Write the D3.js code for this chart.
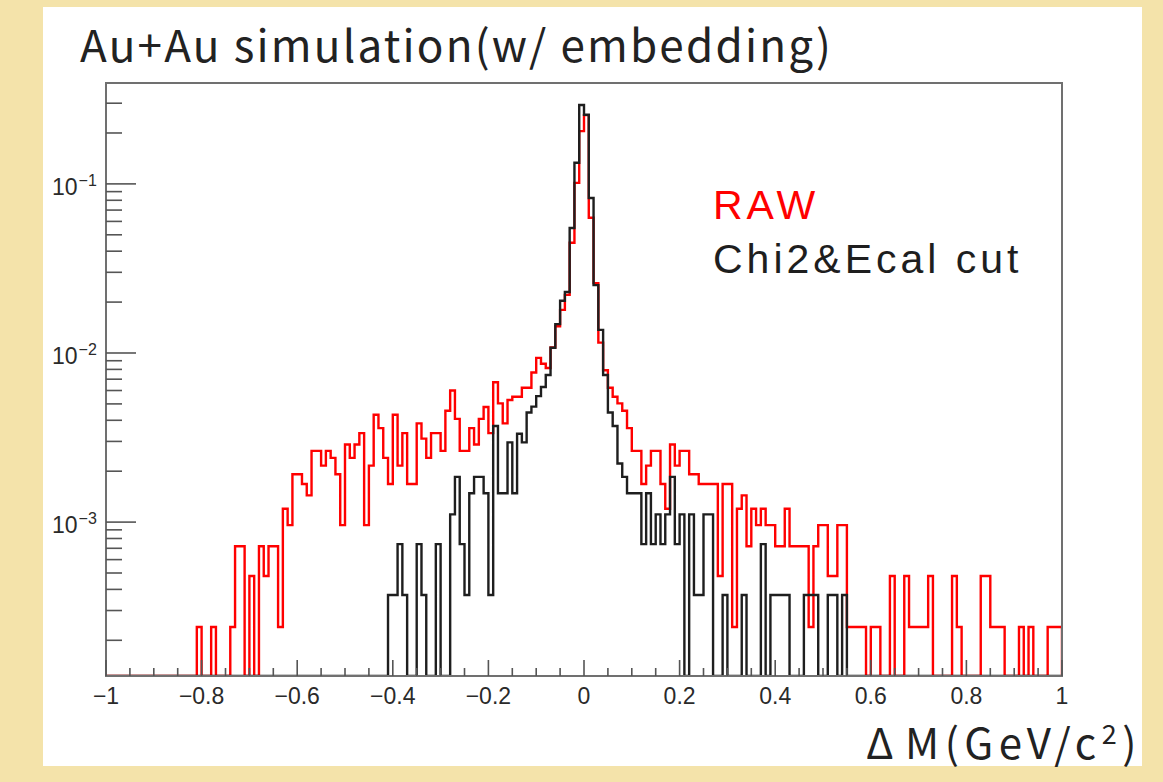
<!DOCTYPE html>
<html lang="en">
<head>
<meta charset="UTF-8">
<title>Au+Au simulation - Delta M</title>
<style>
  html, body { margin: 0; padding: 0; background: #f4e3aa; }
  svg { display: block; }
  .jp { font-family: "Noto Sans CJK JP", "Noto Sans", sans-serif; }
  .legend { font-family: "Liberation Sans", Arial, sans-serif; }
  .axis-label { font-family: "Liberation Sans", Arial, sans-serif; fill: #2a2a2a; }
</style>
</head>
<body>
<svg id="chart" width="1163" height="782"></svg>
<script src="https://cdn.jsdelivr.net/npm/d3@7/dist/d3.min.js"></script>
<script>
// 200 bins of 0.01 GeV/c^2 from -1 to 1
const binRange = [-1, 1];

// RAW candidates, counts per bin
const rawCounts = [
  0, 0, 0, 0, 0, 0, 0, 0, 0, 0, 0, 0, 0, 0, 0, 0, 0, 0, 0, 1,
  0, 0, 1, 0, 0, 0, 1, 3, 3, 0, 2, 0, 3, 2, 3, 3, 1, 5, 4, 8,
  8, 7, 6, 11, 11, 9, 11, 10, 8, 4, 12, 10, 12, 14, 4, 9, 18, 15, 10, 7,
  18, 9, 14, 7, 7, 16, 13, 10, 14, 14, 11, 19, 25, 17, 11, 11, 15, 12, 17, 20,
  14, 28, 21, 16, 22, 23, 23, 26, 26, 32, 39, 36, 34, 45, 60, 75, 92, 187, 423, 855,
  1063, 263, 108, 48, 33, 26, 23, 21, 19, 15, 11, 11, 7, 9, 11, 11, 7, 5, 12, 9,
  11, 11, 8, 8, 7, 7, 7, 7, 2, 7, 7, 1, 5, 6, 3, 5, 4, 5, 4, 4,
  3, 3, 5, 3, 3, 3, 3, 1, 3, 4, 4, 2, 2, 4, 4, 1, 1, 1, 1, 0,
  1, 1, 0, 0, 2, 0, 0, 2, 1, 1, 1, 1, 2, 0, 0, 0, 0, 2, 1, 0,
  0, 0, 0, 2, 2, 1, 1, 1, 0, 0, 0, 1, 0, 1, 0, 0, 0, 1, 1, 1
];
const rawEntries = 4170;

// after Chi2 & Ecal cut, counts per bin
const cutCounts = [
  0, 0, 0, 0, 0, 0, 0, 0, 0, 0, 0, 0, 0, 0, 0, 0, 0, 0, 0, 0,
  0, 0, 0, 0, 0, 0, 0, 0, 0, 0, 0, 0, 0, 0, 0, 0, 0, 0, 0, 0,
  0, 0, 0, 0, 0, 0, 0, 0, 0, 0, 0, 0, 0, 0, 0, 0, 0, 0, 0, 1,
  1, 2, 1, 0, 0, 2, 1, 0, 0, 2, 0, 0, 3, 5, 2, 1, 4, 5, 5, 4,
  1, 10, 4, 4, 8, 4, 9, 8, 12, 13, 15, 17, 20, 29, 40, 55, 62, 148, 360, 790,
  692, 223, 68, 37, 20, 12, 10, 6, 5, 4, 4, 4, 2, 4, 2, 3, 2, 3, 5, 2,
  3, 0, 3, 1, 1, 3, 3, 0, 0, 1, 0, 0, 0, 1, 0, 0, 0, 2, 0, 1,
  1, 1, 1, 0, 0, 0, 1, 1, 1, 0, 0, 1, 1, 0, 1, 0, 0, 0, 0, 0,
  0, 0, 0, 0, 0, 0, 0, 0, 0, 0, 0, 0, 0, 0, 0, 0, 0, 0, 0, 0,
  0, 0, 0, 0, 0, 0, 0, 0, 0, 0, 0, 0, 0, 0, 0, 0, 0, 0, 0, 0
];
const cutEntries = 2700;

const yDomain = [1.23e-4, 0.395];
const yMajorTicks = [1e-3, 1e-2, 1e-1];
const yTickExponents = ["\u22123", "\u22122", "\u22121"];

const legendItems = [
  { label: "RAW", color: "#ff0000" },
  { label: "Chi2&Ecal cut", color: "#1e1e1e" }
];

const W = 1163, H = 782;
const frame = { left: 106, right: 1062, top: 83, bottom: 676 };

const svg = d3.select("#chart");

// slide background + white plot panel
svg.append("rect").attr("width", W).attr("height", H).attr("fill", "#f4e3aa");
svg.append("rect")
  .attr("x", 43).attr("y", 7).attr("width", 1099).attr("height", 759)
  .attr("fill", "#ffffff");

const x = d3.scaleLinear().domain(binRange).range([frame.left, frame.right]);
const y = d3.scaleLog().domain(yDomain).range([frame.bottom, frame.top]);

svg.append("clipPath").attr("id", "plot-clip")
  .append("rect")
  .attr("x", frame.left).attr("y", frame.top)
  .attr("width", frame.right - frame.left).attr("height", frame.bottom - frame.top);

// outline of a histogram, empty bins sit on the frame bottom
function histPath(counts, entries) {
  const w = (binRange[1] - binRange[0]) / counts.length;
  const base = frame.bottom;
  const pts = [[x(binRange[0]), base]];
  counts.forEach((c, i) => {
    const yy = c > 0 ? y(c / entries) : base;
    pts.push([x(binRange[0] + i * w), yy]);
    pts.push([x(binRange[0] + (i + 1) * w), yy]);
  });
  pts.push([x(binRange[1]), base]);
  return d3.line()(pts);
}

const plot = svg.append("g").attr("clip-path", "url(#plot-clip)");

plot.append("path")
  .attr("d", histPath(rawCounts, rawEntries))
  .attr("fill", "none")
  .attr("stroke", "#ff0000")
  .attr("stroke-width", 2.4)
  .attr("stroke-linejoin", "miter");

// axes and frame
const axisG = svg.append("g");
axisG.append("rect")
  .attr("x", frame.left).attr("y", frame.top)
  .attr("width", frame.right - frame.left).attr("height", frame.bottom - frame.top)
  .attr("fill", "none").attr("stroke", "#707070").attr("stroke-width", 2);

// x ticks: major every 0.2, minor every 0.05
const xMajor = x.ticks(10);
const xMinor = x.ticks(40).filter(t => !xMajor.some(m => Math.abs(m - t) < 1e-9));
axisG.selectAll(".xminor").data(xMinor).join("line")
  .attr("x1", d => x(d)).attr("x2", d => x(d))
  .attr("y1", frame.bottom).attr("y2", frame.bottom - 8)
  .attr("stroke", "#555").attr("stroke-width", 1.6);
axisG.selectAll(".xmajor").data(xMajor).join("line")
  .attr("x1", d => x(d)).attr("x2", d => x(d))
  .attr("y1", frame.bottom).attr("y2", frame.bottom - 16)
  .attr("stroke", "#555").attr("stroke-width", 1.6);

const fmtX = d => (d < 0 ? "\u2212" : "") + d3.format("~g")(Math.abs(d));
axisG.selectAll(".xlabel").data(xMajor).join("text")
  .attr("class", "axis-label")
  .attr("x", d => x(d)).attr("y", 704)
  .attr("text-anchor", "middle")
  .attr("font-size", 23)
  .text(fmtX);

// y ticks: decades plus 2..9 minor marks
const yMinor = [];
for (let e = -4; e <= -1; e++) {
  for (let m = 2; m <= 9; m++) {
    const v = m * Math.pow(10, e);
    if (v > yDomain[0] && v < yDomain[1]) yMinor.push(v);
  }
}
axisG.selectAll(".yminor").data(yMinor).join("line")
  .attr("x1", frame.left).attr("x2", frame.left + 16)
  .attr("y1", d => y(d)).attr("y2", d => y(d))
  .attr("stroke", "#555").attr("stroke-width", 1.6);
axisG.selectAll(".ymajor").data(yMajorTicks).join("line")
  .attr("x1", frame.left).attr("x2", frame.left + 30)
  .attr("y1", d => y(d)).attr("y2", d => y(d))
  .attr("stroke", "#555").attr("stroke-width", 1.6);

const yLabels = axisG.selectAll(".ylabel").data(yMajorTicks).join("text")
  .attr("class", "axis-label")
  .attr("x", 52).attr("y", d => y(d) + 11)
  .attr("font-size", 23);
yLabels.append("tspan").text("10");
yLabels.append("tspan")
  .attr("dx", 1).attr("dy", -9).attr("font-size", 16)
  .text((d, i) => yTickExponents[i]);

// second histogram drawn over the axes
plot.append("path")
  .attr("d", histPath(cutCounts, cutEntries))
  .attr("fill", "none")
  .attr("stroke", "#1e1e1e")
  .attr("stroke-width", 2.4)
  .attr("stroke-linejoin", "miter");

// title
svg.append("text")
  .attr("class", "jp")
  .attr("x", 80).attr("y", 62)
  .attr("font-size", 44)
  .attr("letter-spacing", 2.2)
  .attr("fill", "#222")
  .text("Au+Au simulation(w/ embedding)");

// legend
svg.selectAll(".legend-entry").data(legendItems).join("text")
  .attr("class", "legend")
  .attr("x", 713).attr("y", (d, i) => 219 + i * 54)
  .attr("font-size", 41)
  .attr("letter-spacing", 4)
  .attr("fill", d => d.color)
  .text(d => d.label);

// x axis title
const xTitle = svg.append("text")
  .attr("class", "jp")
  .attr("x", 866).attr("y", 759)
  .attr("font-size", 42)
  .attr("letter-spacing", 5.5)
  .attr("fill", "#222");
xTitle.append("tspan").text("\u0394");
xTitle.append("tspan").attr("dx", 6).text("M(GeV/c");
xTitle.append("tspan").attr("dy", -15).attr("font-size", 27).text("2");
xTitle.append("tspan").attr("dy", 15).text(")");
</script>
</body>
</html>
